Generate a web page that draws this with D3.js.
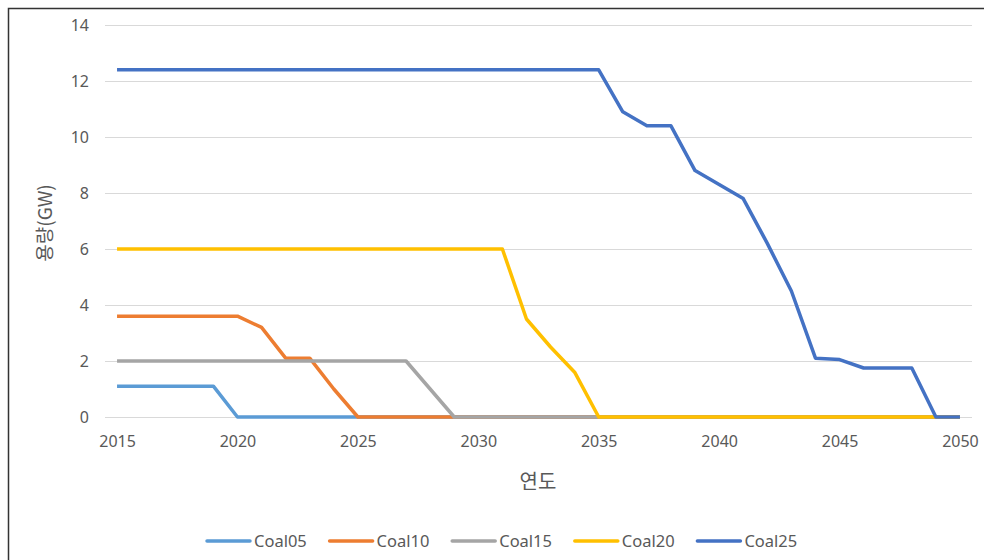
<!DOCTYPE html>
<html>
<head>
<meta charset="utf-8">
<script src="https://cdn.jsdelivr.net/npm/d3@7"></script>
<style>
  html, body { margin: 0; padding: 0; background: #fff; }
  svg { display: block; }
  text { font-family: "Noto Sans", "Noto Sans CJK KR", sans-serif; fill: #595959; }
</style>
</head>
<body>
<svg id="chart" width="984" height="560"></svg>
<script>
const years = [2015,2016,2017,2018,2019,2020,2021,2022,2023,2024,2025,2026,2027,2028,2029,2030,2031,2032,2033,2034,2035,2036,2037,2038,2039,2040,2041,2042,2043,2044,2045,2046,2047,2048,2049,2050];
const seriesNames = ["Coal05","Coal10","Coal15","Coal20","Coal25"];
const coal05 = [1.1,1.1,1.1,1.1,1.1,0,0,0,0,0,0,0,0,0,0,0,0,0,0,0,0,0,0,0,0,0,0,0,0,0,0,0,0,0,0,0];
const coal10 = [3.6,3.6,3.6,3.6,3.6,3.6,3.2,2.1,2.1,1.0,0,0,0,0,0,0,0,0,0,0,0,0,0,0,0,0,0,0,0,0,0,0,0,0,0,0];
const coal15 = [2.0,2.0,2.0,2.0,2.0,2.0,2.0,2.0,2.0,2.0,2.0,2.0,2.0,1.0,0,0,0,0,0,0,0,0,0,0,0,0,0,0,0,0,0,0,0,0,0,0];
const coal20 = [6.0,6.0,6.0,6.0,6.0,6.0,6.0,6.0,6.0,6.0,6.0,6.0,6.0,6.0,6.0,6.0,6.0,3.5,2.5,1.6,0,0,0,0,0,0,0,0,0,0,0,0,0,0,0,0];
const coal25 = [12.4,12.4,12.4,12.4,12.4,12.4,12.4,12.4,12.4,12.4,12.4,12.4,12.4,12.4,12.4,12.4,12.4,12.4,12.4,12.4,12.4,10.9,10.4,10.4,8.8,8.3,7.8,6.2,4.5,2.1,2.05,1.75,1.75,1.75,0,0];
const xTickLabels = [2015,2020,2025,2030,2035,2040,2045,2050];
const yTickLabels = [0,2,4,6,8,10,12,14];
const colors = ["#5B9BD5","#ED7D31","#A5A5A5","#FFC000","#4472C4"];
const xTitle = "연도";
const yTitle = "용량(GW)";

const allSeries = [coal05, coal10, coal15, coal20, coal25];

const svg = d3.select("#chart");

// outer frame
svg.append("rect")
  .attr("x", 8.5).attr("y", 8.5)
  .attr("width", 1000).attr("height", 1000)
  .attr("fill", "none").attr("stroke", "#333").attr("stroke-width", 1.5);

const x = d3.scaleLinear().domain([2014.5, 2050.5]).range([105, 972]);
const y = d3.scaleLinear().domain([0, 14]).range([417, 25]);

// gridlines
svg.append("g")
  .selectAll("line")
  .data(yTickLabels)
  .join("line")
  .attr("x1", x(2014.5)).attr("x2", x(2050.5))
  .attr("y1", d => Math.round(y(d)) + 0.5).attr("y2", d => Math.round(y(d)) + 0.5)
  .attr("stroke", "#d9d9d9").attr("stroke-width", 1);

// y axis labels
const yAxis = d3.axisLeft(y).tickValues(yTickLabels).tickSize(0).tickPadding(0);
const gy = svg.append("g").attr("transform", "translate(89,0)").call(yAxis);
gy.select(".domain").remove();
gy.selectAll("text").style("font-size", "16px").attr("fill", "#595959")
  .style("font-family", '"Noto Sans", sans-serif');

// x axis labels
const xAxis = d3.axisBottom(x).tickValues(xTickLabels).tickFormat(d3.format("d")).tickSize(0).tickPadding(0);
const gx = svg.append("g").attr("transform", "translate(0,436)").call(xAxis);
gx.select(".domain").remove();
gx.selectAll("text").style("font-size", "16px").attr("fill", "#595959")
  .style("font-family", '"Noto Sans", sans-serif');

// lines
const line = d3.line().x((d, i) => x(years[i])).y(d => y(d));
allSeries.forEach((s, k) => {
  svg.append("path")
    .datum(s)
    .attr("d", line)
    .attr("fill", "none")
    .attr("stroke", colors[k])
    .attr("stroke-width", 3.5)
    .attr("stroke-linejoin", "round")
    .attr("stroke-linecap", "butt");
});

// axis titles
svg.append("text")
  .attr("x", 538).attr("y", 489)
  .attr("text-anchor", "middle")
  .style("font-family", '"Noto Sans CJK KR", sans-serif')
  .style("font-size", "20px")
  .text(xTitle);

svg.append("text")
  .attr("transform", "translate(52,223) rotate(-90)")
  .attr("text-anchor", "middle")
  .style("font-family", '"Noto Sans CJK KR", sans-serif')
  .style("font-size", "19px")
  .text(yTitle);

// legend
const legend = svg.append("g");
seriesNames.forEach((name, k) => {
  const lx = 207 + k * 122.6;
  const g = legend.append("g").attr("transform", `translate(${lx},541)`);
  g.append("line").attr("x1", 0).attr("x2", 43).attr("y1", 0).attr("y2", 0)
    .attr("stroke", colors[k]).attr("stroke-width", 3.5).attr("stroke-linecap", "round");
  g.append("text").attr("x", 47).attr("y", 0).attr("dy", "0.35em")
    .style("font-size", "16.5px").text(name);
});
</script>
</body>
</html>
